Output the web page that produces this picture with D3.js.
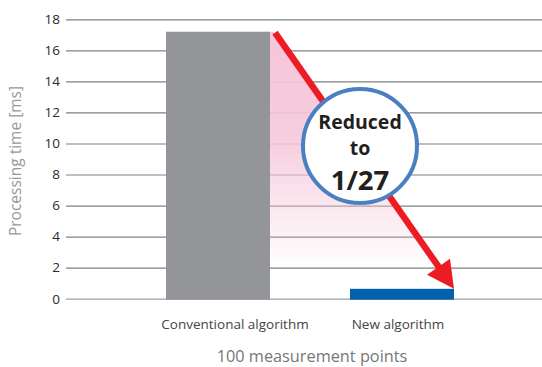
<!DOCTYPE html>
<html>
<head>
<meta charset="utf-8">
<script src="https://cdn.jsdelivr.net/npm/d3@7"></script>
<style>
  html, body { margin: 0; padding: 0; background: #fff; }
  svg { display: block; font-family: "Open Sans", "Noto Sans", sans-serif; }
</style>
</head>
<body>
<svg id="chart" width="542" height="367"></svg>
<script>
// Processing time per algorithm, 100 measurement points
const categories = ["Conventional algorithm", "New algorithm"];
const reductionFactor = 27;
const conventionalTime = 17.2;
const times = [conventionalTime, conventionalTime / reductionFactor];
const yTicks = [0, 2, 4, 6, 8, 10, 12, 14, 16, 18];
const barColors = ["#939598", "#0061ad"];
const calloutLines = ["Reduced", "to", "1/" + reductionFactor];

const svg = d3.select("#chart");
const plot = { left: 66, right: 542, top: 19.3, bottom: 298.7 };

const y = d3.scaleLinear().domain([0, 18]).range([plot.bottom, plot.top]);
const x = d3.scaleBand()
  .domain(categories)
  .range([126, 494])
  .paddingInner(80 / 184)
  .paddingOuter(40 / 184);

// Gridlines with tick labels
const yAxis = d3.axisLeft(y)
  .tickValues(yTicks)
  .tickSize(-(plot.right - plot.left))
  .tickPadding(6)
  .tickFormat(d3.format("d"));

const gAxis = svg.append("g")
  .attr("transform", `translate(${plot.left},0)`)
  .call(yAxis);
gAxis.select(".domain").remove();
gAxis.selectAll(".tick line")
  .attr("stroke", d => d === 0 ? "#a0a0a0" : "#808080")
  .attr("stroke-width", 1.2);
gAxis.selectAll(".tick text")
  .attr("fill", "#2b2b2b")
  .style("font-size", "13.5px")
  .style("font-family", "'Open Sans', sans-serif");

// Y axis title
svg.append("text")
  .attr("transform", `translate(21,${(plot.top + plot.bottom) / 2 + 2}) rotate(-90)`)
  .attr("text-anchor", "middle")
  .attr("fill", "#9a9a9a")
  .style("font-size", "15.5px")
  .text("Processing time [ms]");

// Arrow geometry: from the top of the old bar to the top of the new bar
const start = { x: x(categories[0]) + x.bandwidth() + 5, y: y(times[0]) + 1 };
const tip = { x: x(categories[1]) + x.bandwidth(), y: y(times[1]) };

// Pink fading wedge under the arrow
const defs = svg.append("defs");
const grad = defs.append("linearGradient")
  .attr("id", "wedge")
  .attr("gradientUnits", "userSpaceOnUse")
  .attr("x1", 0).attr("x2", 0)
  .attr("y1", y(times[0])).attr("y2", 268);
grad.append("stop").attr("offset", 0).attr("stop-color", "#f5c5d8").attr("stop-opacity", 1);
grad.append("stop").attr("offset", 0.45).attr("stop-color", "#f5c5d8").attr("stop-opacity", 0.85);
grad.append("stop").attr("offset", 1).attr("stop-color", "#f5c5d8").attr("stop-opacity", 0);

const barRight = x(categories[0]) + x.bandwidth();
svg.append("path")
  .attr("d", d3.line()([
    [barRight, y(times[0])],
    [start.x - 2, y(times[0])],
    [tip.x, tip.y],
    [barRight, y(0)]
  ]) + "Z")
  .attr("fill", "url(#wedge)");

// Bars
svg.append("g").selectAll("rect")
  .data(categories)
  .join("rect")
  .attr("x", d => x(d))
  .attr("width", x.bandwidth())
  .attr("y", (d, i) => y(times[i]))
  .attr("height", (d, i) => y(0) - y(times[i]) + 1)
  .attr("fill", (d, i) => barColors[i]);

// Category labels
const labelShift = [17, -4];
svg.append("g").selectAll("text")
  .data(categories)
  .join("text")
  .attr("x", (d, i) => x(d) + x.bandwidth() / 2 + labelShift[i])
  .attr("y", 329)
  .attr("text-anchor", "middle")
  .attr("fill", "#444")
  .style("font-size", "13.5px")
  .text(d => d);

// X axis title
svg.append("text")
  .attr("x", (x(categories[0]) + x(categories[1]) + x.bandwidth()) / 2 + 2)
  .attr("y", 362)
  .attr("text-anchor", "middle")
  .attr("fill", "#777")
  .style("font-size", "16.3px")
  .text("100 measurement points");

// Red arrow
const dx = tip.x - start.x, dy = tip.y - start.y;
const len = Math.hypot(dx, dy);
const ux = dx / len, uy = dy / len;
const headLen = 27, headHalf = 14;
const base = { x: tip.x - ux * headLen, y: tip.y - uy * headLen };
svg.append("line")
  .attr("x1", start.x).attr("y1", start.y)
  .attr("x2", base.x + ux * 4).attr("y2", base.y + uy * 4)
  .attr("stroke", "#ed1c24")
  .attr("stroke-width", 6.5);
svg.append("path")
  .attr("d", d3.line()([
    [tip.x, tip.y],
    [base.x - uy * headHalf, base.y + ux * headHalf],
    [base.x + uy * headHalf, base.y - ux * headHalf]
  ]) + "Z")
  .attr("fill", "#ed1c24");

// Callout circle
const cx = 360, cy = 146;
svg.append("circle")
  .attr("cx", cx).attr("cy", cy).attr("r", 57)
  .attr("fill", "#fff")
  .attr("stroke", "#4a7fc1")
  .attr("stroke-width", 4);

const callout = svg.append("g")
  .attr("text-anchor", "middle")
  .attr("fill", "#231f20")
  .style("font-weight", "700");
callout.append("text").attr("x", cx).attr("y", 129).style("font-size", "19.5px").text(calloutLines[0]);
callout.append("text").attr("x", cx).attr("y", 155).style("font-size", "19.5px").text(calloutLines[1]);
callout.append("text").attr("x", cx).attr("y", 189.5).style("font-size", "27.5px").text(calloutLines[2]);
</script>
</body>
</html>
